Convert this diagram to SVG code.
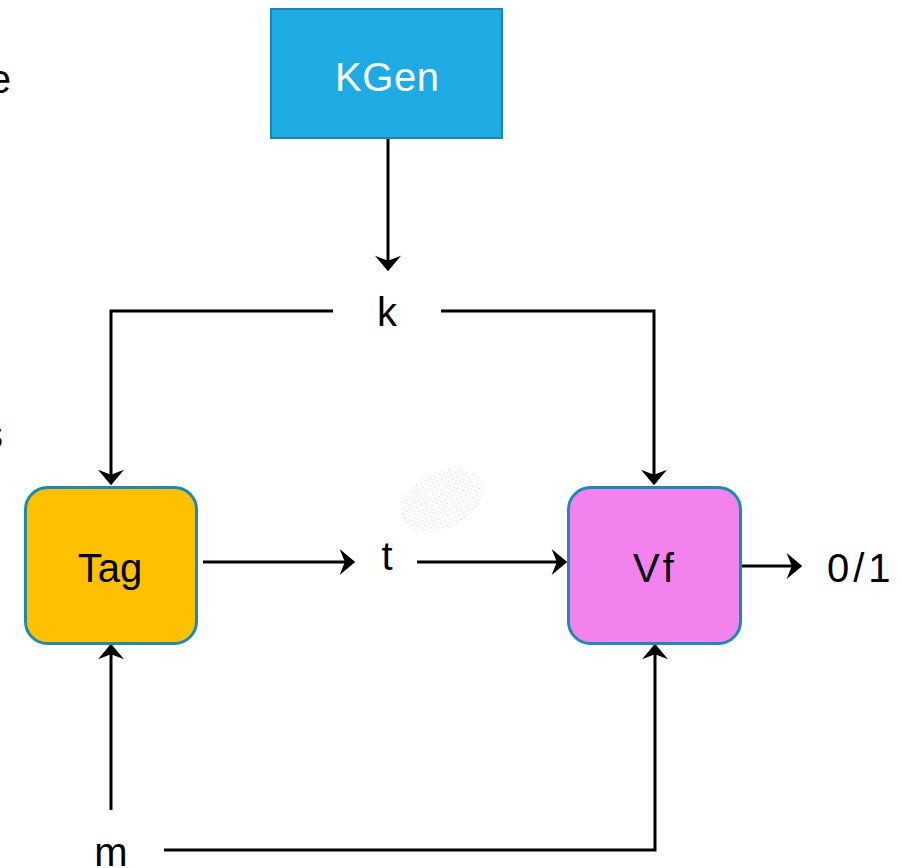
<svg xmlns="http://www.w3.org/2000/svg" width="902" height="868" viewBox="0 0 902 868">
<style>
.t{font-family:"Liberation Sans",Arial,sans-serif;font-size:40px;fill:#000}
.c{text-anchor:middle}
.ln{fill:none;stroke:#000;stroke-width:3;marker-end:url(#ah)}
.rb{stroke:#1D8AB0;stroke-width:3}
</style>
<defs>
<marker id="ah" markerUnits="userSpaceOnUse" markerWidth="17" markerHeight="26" refX="9" refY="12.5" orient="auto" viewBox="0 0 16 25">
<path d="M0,0 L15,12.5 L0,25 L5,12.5 Z" fill="#000"/>
</marker>
<pattern id="dots" width="5" height="5" patternUnits="userSpaceOnUse">
<rect x="0" y="0" width="1.3" height="1.3" fill="#d6d6d6"/>
<rect x="2.5" y="2.5" width="1.3" height="1.3" fill="#e6e6e6"/>
</pattern>
</defs>
<text class="t" x="11" y="93" text-anchor="end" font-size="44">e</text>
<text class="t" x="3" y="448" text-anchor="end">s</text>
<ellipse cx="442" cy="500" rx="44" ry="28" transform="rotate(-25 442 500)" fill="url(#dots)"/>
<g id="connectors">
<path class="ln" d="M388,138 V265"/>
<path class="ln" d="M333,311 H111 V479"/>
<path class="ln" d="M441,311 H654 V479"/>
<path class="ln" d="M203,562 H349"/>
<path class="ln" d="M417,562 H561"/>
<path class="ln" d="M742,566 H796"/>
<path class="ln" d="M111,810 V650"/>
<path class="ln" d="M164,850 H655 V650"/>
</g>
<g id="KGen">
<rect x="271" y="9" width="231" height="129" fill="#1EABE3" stroke="#1785B5" stroke-width="2"/>
<text class="t c" x="387" y="91" style="fill:#fff" textLength="104">KGen</text>
</g>
<g id="Tag">
<rect class="rb" x="25.5" y="487.5" width="171" height="156" rx="22" fill="#FFC000"/>
<text class="t c" x="110" y="582">Tag</text>
</g>
<g id="Vf">
<rect class="rb" x="568.5" y="487.5" width="172" height="156" rx="22" fill="#F283EE"/>
<text class="t c" x="655" y="582" letter-spacing="3">Vf</text>
</g>
<g id="k"><text class="t c" x="387" y="326">k</text></g>
<g id="t"><text class="t c" x="387" y="570">t</text></g>
<g id="m"><text class="t c" x="111" y="866">m</text></g>
<g id="out"><text class="t" x="827" y="582" letter-spacing="4">0/1</text></g>
</svg>
